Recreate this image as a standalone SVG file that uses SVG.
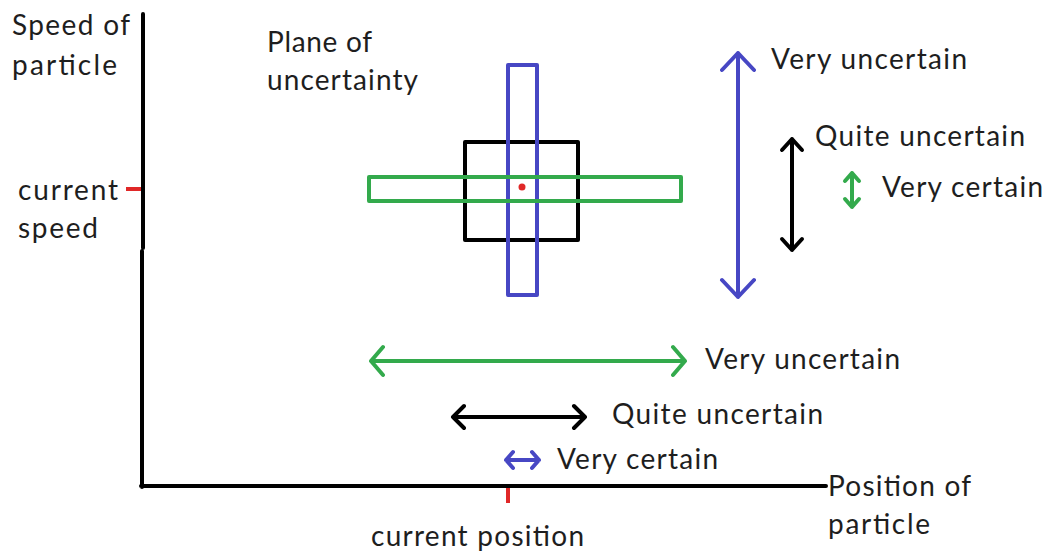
<svg xmlns="http://www.w3.org/2000/svg" width="1051" height="551" viewBox="0 0 1051 551">
<style>
text{font-family:Lato,"Open Sans","Liberation Sans",sans-serif;font-size:28px;fill:#1e1e1e}
.k{stroke:#000;fill:none;stroke-width:4;stroke-linecap:round;stroke-linejoin:round}
.b{stroke:#4747c4;fill:none;stroke-width:4;stroke-linecap:round;stroke-linejoin:round}
.g{stroke:#33aa4c;fill:none;stroke-width:4;stroke-linecap:round;stroke-linejoin:round}
.r{stroke:#e02828;fill:none;stroke-width:4}
</style>
<rect width="1051" height="551" fill="#fff"/>
<g id="axes">
<path class="k" d="M143 14V248M142 251V487M141 486H826" stroke-linecap="butt"/>
<path class="r" d="M126 189H141M508 488V503"/>
</g>
<g id="labels-axes">
<text x="12" y="35" textLength="118">Speed of</text>
<text x="12" y="75" textLength="105">particle</text>
<text x="18" y="200" textLength="100">current</text>
<text x="18" y="238" textLength="80">speed</text>
<text x="828" y="496" textLength="143">Position of</text>
<text x="828" y="534" textLength="102">particle</text>
<text x="371" y="546" textLength="213">current position</text>
</g>
<g id="plane">
<text x="267" y="52" textLength="105">Plane of</text>
<text x="267" y="90" textLength="151">uncertainty</text>
<rect class="k" x="465" y="142" width="113" height="98" stroke-linejoin="miter"/>
<rect class="b" x="508" y="65" width="29" height="230" stroke-linejoin="miter"/>
<rect class="g" x="369" y="177" width="312" height="24" stroke-linejoin="miter"/>
<circle cx="522" cy="187" r="3.5" fill="#e02828"/>
</g>
<g id="connectors">
<path class="b" d="M738 53V297M722 70L738 53L754 70M722 280L738 297L754 280"/>
<path class="k" d="M792 139V250M782 150L792 139L802 150M782 239L792 250L802 239"/>
<path class="g" d="M852 173V207M845 181L852 173L859 181M845 199L852 207L859 199"/>
<path class="g" d="M371 361H685M383 347L371 361L383 375M673 347L685 361L673 375"/>
<path class="k" d="M453 417H585M464 406L453 417L464 428M574 406L585 417L574 428"/>
<path class="b" d="M506 460H539M513 452L506 460L513 468M532 452L539 460L532 468"/>
</g>
<g id="arrow-labels">
<text x="771" y="69" textLength="196">Very uncertain</text>
<text x="815" y="146" textLength="210">Quite uncertain</text>
<text x="882" y="197" textLength="161">Very certain</text>
<text x="705" y="369" textLength="195">Very uncertain</text>
<text x="612" y="424" textLength="211">Quite uncertain</text>
<text x="557" y="469" textLength="161">Very certain</text>
</g>
</svg>
